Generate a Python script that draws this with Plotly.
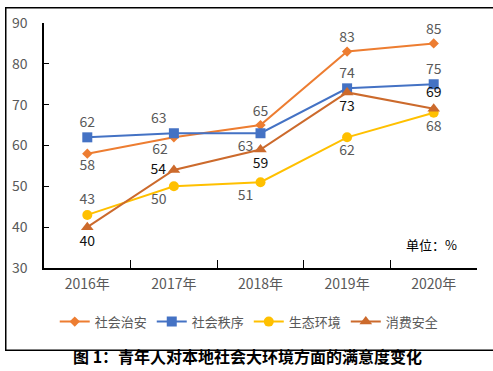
import plotly.graph_objects as go

years = ["2016年", "2017年", "2018年", "2019年", "2020年"]
names = ["社会治安", "社会秩序", "生态环境", "消费安全"]
shehui_zhian = [58, 62, 65, 83, 85]
shehui_zhixu = [62, 63, 63, 74, 75]
shengtai_huanjing = [43, 50, 51, 62, 68]
xiaofei_anquan = [40, 54, 59, 73, 69]

series = [shehui_zhian, shehui_zhixu, shengtai_huanjing, xiaofei_anquan]
colors = ["#ED7D31", "#4472C4", "#FFC000", "#CC6A2C"]
symbols = ["diamond", "square", "circle", "triangle-up"]
msizes = [8, 10, 10, 11]
textcolors = ["#595959", "#595959", "#595959", "#111111"]
positions = [
    ["bottom center", "bottom left", "top center", "top center", "top center"],
    ["top center", "top left", "bottom left", "top center", "top center"],
    ["top center", "bottom left", "bottom left", "bottom center", "bottom center"],
    ["bottom center", "middle left", "bottom center", "bottom center", "top center"],
]

FONT = "Noto Sans CJK SC, Noto Sans, sans-serif"

fig = go.Figure()
for name, vals, c, s, ms, tc, pos in zip(names, series, colors, symbols, msizes, textcolors, positions):
    fig.add_trace(go.Scatter(
        x=years, y=vals, name=name, mode="lines+markers+text",
        line=dict(color=c, width=2),
        marker=dict(symbol=s, size=ms, color=c),
        text=[str(v) for v in vals], textposition=pos,
        textfont=dict(size=14, color=tc, family=FONT),
        cliponaxis=False,
    ))

# outer border (annotation box)
fig.add_annotation(text=" ", xref="paper", yref="paper", x=-0.0892, y=1.0637,
                   xanchor="left", yanchor="top", width=487, height=341,
                   showarrow=False, bordercolor="black", borderwidth=1.5, borderpad=0)

fig.add_annotation(text="单位：%", xref="paper", yref="paper", x=0.895, y=0.0956,
                   xanchor="center", yanchor="middle",
                   showarrow=False, font=dict(size=13, color="black", family=FONT))
fig.add_annotation(text="<b>图 1：青年人对本地社会大环境方面的满意度变化</b>",
                   xref="paper", yref="paper", x=0.471, y=-0.3586,
                   xanchor="center", yanchor="middle",
                   showarrow=False, font=dict(size=16, color="black", family=FONT))

fig.update_layout(
    width=493, height=371,
    margin=dict(l=40, r=16, t=17, b=103),
    paper_bgcolor="white", plot_bgcolor="white",
    font=dict(family=FONT, color="#595959"),
    showlegend=True,
    legend=dict(orientation="h", x=0.474, xanchor="center", y=-0.219, yanchor="middle",
                font=dict(size=13, color="#595959", family=FONT), itemwidth=30,
                bgcolor="rgba(0,0,0,0)"),
    xaxis=dict(type="category", range=[-0.5, 4.5], showline=True, linecolor="black", linewidth=1.5,
               ticks="inside", tickson="boundaries", ticklen=8, tickcolor="black",
               showgrid=False, tickfont=dict(size=14, color="#595959"), ticklabelstandoff=2),
    yaxis=dict(range=[30, 90], dtick=10, showline=True, linecolor="black", linewidth=1.5,
               ticks="inside", ticklen=5, tickcolor="black", showgrid=False, zeroline=False,
               tickfont=dict(size=14, color="#595959"), ticklabelstandoff=12),
)

fig.write_html("out.html", config={"displayModeBar": False},
               post_script="document.body.style.margin='0';document.documentElement.style.margin='0';")
